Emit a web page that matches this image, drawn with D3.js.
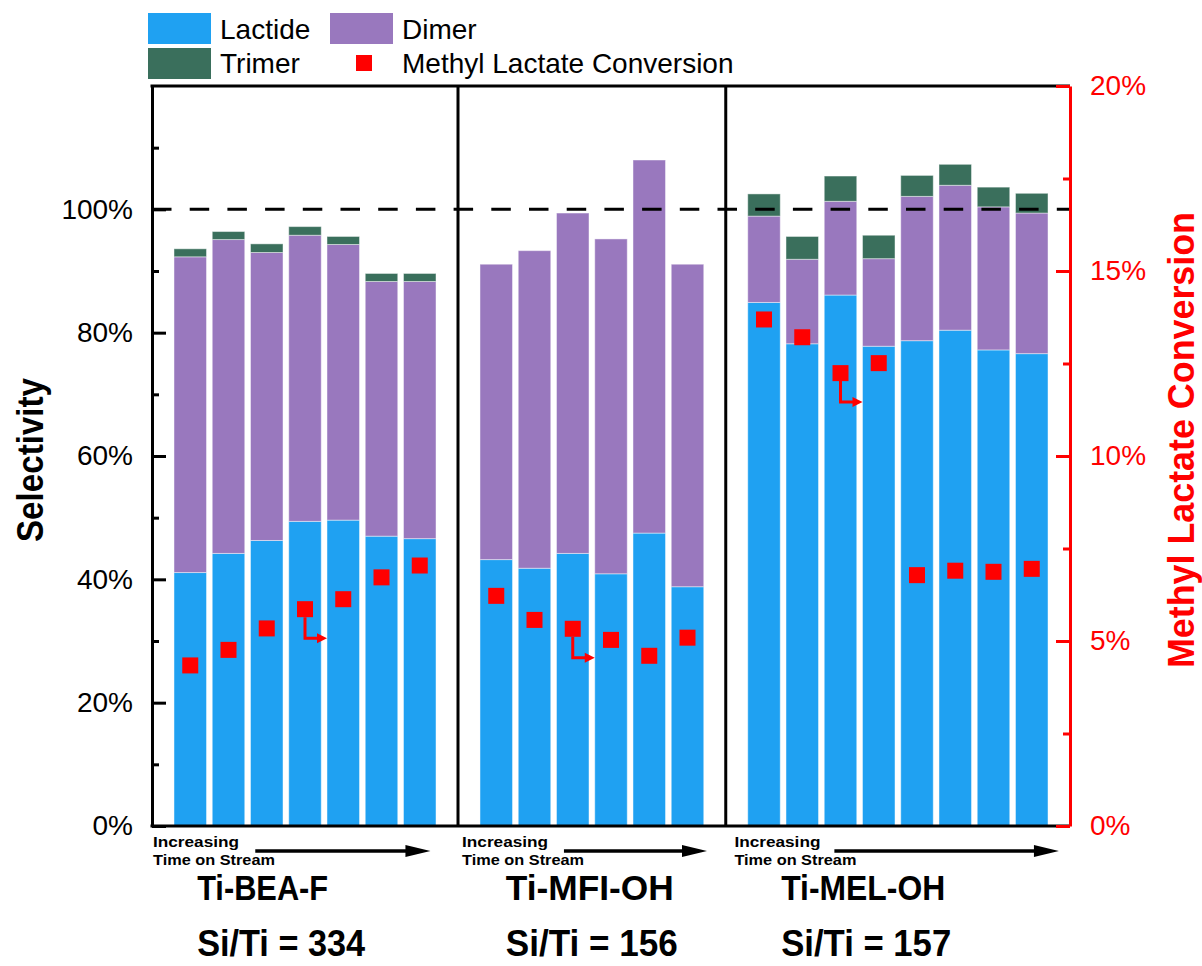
<!DOCTYPE html>
<html>
<head>
<meta charset="utf-8">
<script src="https://cdn.jsdelivr.net/npm/d3@7"></script>
<style>
  body { margin: 0; background: #fff; }
  svg { display: block; }
</style>
</head>
<body>
<svg id="chart" width="1202" height="966"></svg>
<script>
// ---- data ----
const catalysts = ["Ti-BEA-F", "Ti-MFI-OH", "Ti-MEL-OH"];
const siTiLabels = ["Si/Ti = 334", "Si/Ti = 156", "Si/Ti = 157"];
// each catalyst occupies a span of slots on the shared x axis
const panelBounds = [[0, 8], [8, 15], [15, 24]];
// slot of every time-on-stream sample
const samplePos = [1, 2, 3, 4, 5, 6, 7,  9, 10, 11, 12, 13, 14,  16, 17, 18, 19, 20, 21, 22, 23];
// selectivities (%)
const lactide = [41.1, 44.2, 46.3, 49.4, 49.6, 47.0, 46.6,
                 43.2, 41.8, 44.2, 40.9, 47.5, 38.8,
                 84.9, 78.2, 86.1, 77.8, 78.7, 80.4, 77.2, 76.6];
const dimer   = [51.2, 50.9, 46.7, 46.4, 44.7, 41.3, 41.7,
                 47.9, 51.5, 55.2, 54.3, 60.5, 52.3,
                 14.0, 13.7, 15.2, 14.2, 23.4, 23.5, 23.2, 22.8];
const trimer  = [1.3, 1.3, 1.4, 1.4, 1.3, 1.3, 1.3,
                 0, 0, 0, 0, 0, 0,
                 3.6, 3.7, 4.1, 3.8, 3.4, 3.4, 3.2, 3.2];
// methyl lactate conversion (%)
const conversion = [4.34, 4.76, 5.34, 5.86, 6.13, 6.72, 7.04,
                    6.22, 5.57, 5.33, 5.03, 4.60, 5.09,
                    13.69, 13.21, 12.24, 12.51, 6.78, 6.90, 6.87, 6.95];
// samples whose conversion marker carries the "read on the right axis" arrow
const arrowSamples = [3, 9, 15];

const selTicks = [0, 20, 40, 60, 80, 100];
const selMinor = [10, 30, 50, 70, 90, 110];
const convTicks = [0, 5, 10, 15, 20];
const convMinor = [2.5, 7.5, 12.5, 17.5];

const seriesKeys = ["Lactide", "Dimer", "Trimer"];
const colors = { Lactide: "#1fa1f2", Dimer: "#9978be", Trimer: "#3a6f5c", conv: "#ff0000" };

// ---- layout ----
const L = 152, R = 1070, T = 86, B = 826;
const svg = d3.select("#chart");
const sansFont = "'Liberation Sans', Arial, Helvetica, sans-serif";
const narrowFont = "'Liberation Sans Narrow', 'Arial Narrow', 'Liberation Sans', Arial, sans-serif";

const x = d3.scaleLinear().domain([0, 24]).range([L, R]);
const yL = d3.scaleLinear().domain([0, 120]).range([B, T]);
const yR = d3.scaleLinear().domain([0, 20]).range([B, T]);

const table = samplePos.map((p, i) => ({
  pos: p, Lactide: lactide[i], Dimer: dimer[i], Trimer: trimer[i], conv: conversion[i]
}));
const stacked = d3.stack().keys(seriesKeys)(table);
const barW = x(0.85) - x(0);

// ---- stacked bars ----
svg.append("g").selectAll("g").data(stacked).join("g")
  .attr("fill", d => colors[d.key])
  .selectAll("rect").data(d => d.filter(s => s[1] - s[0] > 0)).join("rect")
  .attr("x", d => x(d.data.pos) - barW / 2)
  .attr("width", barW)
  .attr("y", d => yL(d[1]))
  .attr("height", d => yL(d[0]) - yL(d[1]))
  .attr("stroke", "rgba(255,255,255,0.45)")
  .attr("stroke-width", 1);

// ---- 100% reference line ----
svg.append("line")
  .attr("x1", L).attr("x2", R).attr("y1", yL(100)).attr("y2", yL(100))
  .attr("stroke", "#000").attr("stroke-width", 3)
  .attr("stroke-dasharray", "19.5,18.2");

// ---- frame and panel dividers ----
const frame = svg.append("g").attr("stroke", "#000").attr("stroke-width", 3);
frame.append("line").attr("x1", L - 1.5).attr("x2", R).attr("y1", T).attr("y2", T);
frame.append("line").attr("x1", L - 1.5).attr("x2", R).attr("y1", B).attr("y2", B);
panelBounds.slice(1).forEach(b => {
  frame.append("line").attr("x1", x(b[0])).attr("x2", x(b[0])).attr("y1", T).attr("y2", B);
});

// ---- left axis (selectivity) ----
function styleAxis(g, color) {
  g.selectAll("line").attr("stroke", color).attr("stroke-width", 3);
  g.selectAll("path.domain").attr("stroke", color).attr("stroke-width", 3);
  g.selectAll("text").attr("fill", color).style("font-family", sansFont).style("font-size", "28px");
}
svg.append("g").attr("transform", `translate(${L},0)`)
  .call(d3.axisLeft(yL).tickValues(selMinor).tickSize(-7).tickSizeOuter(0).tickFormat(""))
  .call(g => g.select(".domain").remove())
  .call(g => styleAxis(g, "#000"));
svg.append("g").attr("transform", `translate(${L},0)`)
  .call(d3.axisLeft(yL).tickValues(selTicks).tickSize(-14).tickSizeOuter(0).tickPadding(19).tickFormat(d => d + "%"))
  .call(g => styleAxis(g, "#000"));

// ---- right axis (conversion) ----
svg.append("g").attr("transform", `translate(${R},0)`)
  .call(d3.axisRight(yR).tickValues(convMinor).tickSize(-7).tickSizeOuter(0).tickFormat(""))
  .call(g => g.select(".domain").remove())
  .call(g => styleAxis(g, "#ff0000"));
svg.append("g").attr("transform", `translate(${R},0)`)
  .call(d3.axisRight(yR).tickValues(convTicks).tickSize(-14).tickSizeOuter(0).tickPadding(20).tickFormat(d => d + "%"))
  .call(g => styleAxis(g, "#ff0000"));

// ---- axis titles ----
svg.append("text")
  .attr("transform", `translate(43,460) rotate(-90)`)
  .attr("text-anchor", "middle")
  .style("font-family", narrowFont).style("font-weight", "bold").style("font-size", "36px")
  .attr("textLength", 164).attr("lengthAdjust", "spacingAndGlyphs")
  .text("Selectivity");
svg.append("text")
  .attr("transform", `translate(1194,440) rotate(-90)`)
  .attr("text-anchor", "middle")
  .attr("fill", "#ff0000")
  .style("font-family", narrowFont).style("font-weight", "bold").style("font-size", "36px")
  .attr("textLength", 456).attr("lengthAdjust", "spacingAndGlyphs")
  .text("Methyl Lactate Conversion");

// ---- conversion markers ----
const ms = 16;
svg.append("g").selectAll("rect").data(table).join("rect")
  .attr("x", d => x(d.pos) - ms / 2)
  .attr("y", d => yR(d.conv) - ms / 2)
  .attr("width", ms).attr("height", ms)
  .attr("fill", colors.conv);

// L-shaped arrows pointing the markers to the right-hand axis
const arrowG = svg.append("g");
arrowSamples.forEach(i => {
  const cx = x(table[i].pos), cy = yR(table[i].conv);
  arrowG.append("path")
    .attr("d", `M${cx},${cy + ms / 2} V${cy + 29} H${cx + 13}`)
    .attr("fill", "none").attr("stroke", colors.conv).attr("stroke-width", 3);
  arrowG.append("path")
    .attr("d", `M${cx + 12},${cy + 24} L${cx + 22},${cy + 29} L${cx + 12},${cy + 34} Z`)
    .attr("fill", colors.conv);
});

// ---- time-on-stream notes and catalyst labels ----
const textOffsets = [0, 0.08, 0.2];       // slot offset of the note from panel start
const arrowSpans = [[2.7, 7.28], [10.77, 14.51], [17.84, 23.71]];
const labelStart = [1.18, 9.25, 16.45];
const catalystWidths = [131, 168, 164];
const siTiWidths = [168, 172, 170];
const notes = svg.append("g");
panelBounds.forEach((b, k) => {
  const tx = x(b[0] + textOffsets[k]) + 1;
  notes.append("text").attr("x", tx).attr("y", 847)
    .style("font-family", sansFont).style("font-weight", "bold").style("font-size", "15px")
    .attr("textLength", 86).attr("lengthAdjust", "spacingAndGlyphs")
    .text("Increasing");
  notes.append("text").attr("x", tx).attr("y", 865)
    .style("font-family", sansFont).style("font-weight", "bold").style("font-size", "15px")
    .attr("textLength", 122).attr("lengthAdjust", "spacingAndGlyphs")
    .text("Time on Stream");
  const a0 = x(arrowSpans[k][0]), a1 = x(arrowSpans[k][1]);
  notes.append("line").attr("x1", a0).attr("x2", a1 - 20).attr("y1", 851).attr("y2", 851)
    .attr("stroke", "#000").attr("stroke-width", 3.5);
  notes.append("path")
    .attr("d", `M${a1 - 25},${845} L${a1},${851} L${a1 - 25},${857} Z`)
    .attr("fill", "#000");
  notes.append("text").attr("x", x(labelStart[k])).attr("y", 900)
    .style("font-family", narrowFont).style("font-weight", "bold").style("font-size", "35px")
    .attr("textLength", catalystWidths[k]).attr("lengthAdjust", "spacingAndGlyphs")
    .text(catalysts[k]);
  notes.append("text").attr("x", x(labelStart[k])).attr("y", 956)
    .style("font-family", narrowFont).style("font-weight", "bold").style("font-size", "36px")
    .attr("textLength", siTiWidths[k]).attr("lengthAdjust", "spacingAndGlyphs")
    .text(siTiLabels[k]);
});

// ---- legend ----
const legendItems = [
  { key: "Lactide", label: "Lactide", sx: 148, sy: 13, tx: 220, ty: 39 },
  { key: "Dimer",   label: "Dimer",   sx: 330, sy: 13, tx: 402, ty: 39 },
  { key: "Trimer",  label: "Trimer",  sx: 148, sy: 48, tx: 220, ty: 73 },
];
const legend = svg.append("g");
legendItems.forEach(it => {
  legend.append("rect").attr("x", it.sx).attr("y", it.sy).attr("width", 63).attr("height", 31)
    .attr("fill", colors[it.key]);
  legend.append("text").attr("x", it.tx).attr("y", it.ty)
    .style("font-family", sansFont).style("font-size", "28px").text(it.label);
});
legend.append("rect").attr("x", 356).attr("y", 55).attr("width", ms).attr("height", ms).attr("fill", colors.conv);
legend.append("text").attr("x", 402).attr("y", 73)
  .style("font-family", sansFont).style("font-size", "28px").text("Methyl Lactate Conversion");
</script>
</body>
</html>
